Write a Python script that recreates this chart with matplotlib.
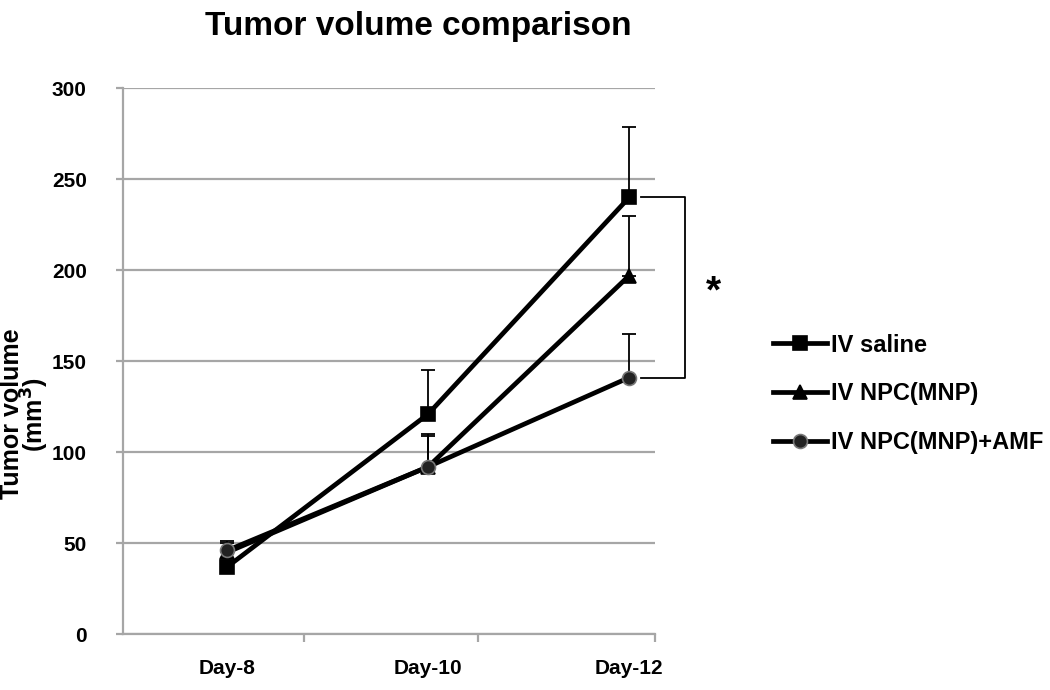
import matplotlib
matplotlib.use("Agg")
import matplotlib.pyplot as plt
from matplotlib.ticker import FixedLocator

days = ["Day-8", "Day-10", "Day-12"]
saline = [37, 121, 240]
saline_err = [3, 24, 39]
npc = [45, 92, 197]
npc_err = [5, 18, 33]
npc_amf = [46, 92, 141]
npc_amf_err = [5, 17, 24]
labels = ["IV saline", "IV NPC(MNP)", "IV NPC(MNP)+AMF"]

plt.rcParams['font.family'] = ['Liberation Sans', 'DejaVu Sans']
plt.rcParams['font.weight'] = 'bold'
fig = plt.figure(figsize=(10.5, 6.9), dpi=100)
ax = fig.add_axes([0.117, 0.081, 0.507, 0.791])

x = list(range(len(days)))
grid_c = "#a6a6a6"
ax.set_ylim(0, 300)
ax.set_xlim(-0.52, 2.13)
ax.set_yticks([0, 50, 100, 150, 200, 250, 300])
ax.yaxis.grid(True, color=grid_c, lw=1.6)
ax.set_axisbelow(True)
for s in ["top", "right"]:
    ax.spines[s].set_visible(False)
for s in ["left", "bottom"]:
    ax.spines[s].set_color(grid_c)
    ax.spines[s].set_linewidth(1.6)

ax.set_xticks(x)
ax.set_xticklabels(days)
ax.tick_params(axis='x', which='major', length=0, pad=18, labelsize=15)
ax.xaxis.set_minor_locator(FixedLocator([0.38, 1.25, 2.13]))
ax.tick_params(axis='x', which='minor', length=6, color=grid_c, width=1.6)
ax.tick_params(axis='y', length=5, color=grid_c, width=1.6, pad=21, labelsize=15)

series = [(saline, saline_err, 's', 'black', 'black'),
          (npc, npc_err, '^', 'black', 'black'),
          (npc_amf, npc_amf_err, 'o', '#222222', '#777777')]
handles = []
for (vals, err, m, fc, ec), lab in zip(series, labels):
    ax.errorbar(x, vals, yerr=[[0]*len(err), err], fmt='none', ecolor='black',
                elinewidth=1.3, capsize=5, capthick=1.3, zorder=3)
    h, = ax.plot(x, vals, color='black', lw=3.4, marker=m, markersize=10,
                 markerfacecolor=fc, markeredgecolor=ec, markeredgewidth=1.2,
                 label=lab, zorder=4)
    handles.append(h)

# significance bracket
ax.plot([2.06, 2.28, 2.28, 2.06], [saline[2], saline[2], npc_amf[2], npc_amf[2]],
        color='black', lw=1.3, clip_on=False)
ax.text(2.42, 188, "*", fontsize=28, fontweight='bold', ha='center', va='center')

fig.text(0.024, 0.40, "Tumor volume\n(mm$^3$)", fontsize=18, fontweight='bold',
         rotation=90, ha='center', va='center', linespacing=0.8)

fig.text(0.398, 0.962, "Tumor volume comparison", fontsize=24, fontweight='bold',
         ha='center', va='center')

leg = fig.legend(handles=handles, loc='center left', bbox_to_anchor=(0.716, 0.429),
                 frameon=False, handlelength=2.3, handletextpad=0.15,
                 labelspacing=1.1, prop={'weight': 'bold', 'size': 17})

fig.savefig("out.png", dpi=100)
